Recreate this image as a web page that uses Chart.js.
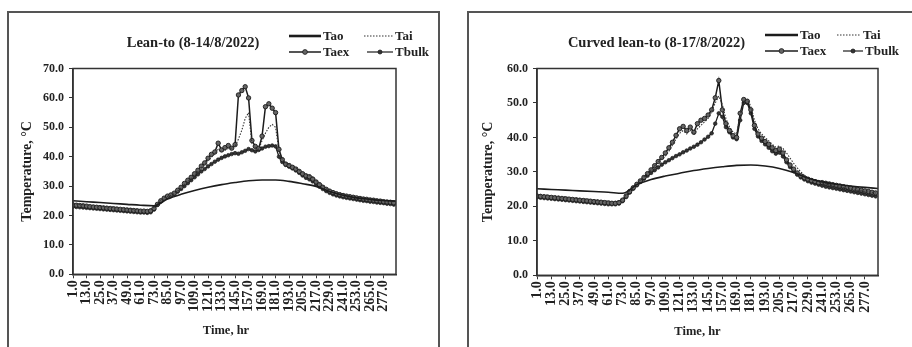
<!DOCTYPE html>
<html>
<head>
<meta charset="utf-8">
<script src="https://cdn.jsdelivr.net/npm/chart.js@4.4.0/dist/chart.umd.min.js"></script>
<style>
  html, body { margin: 0; padding: 0; background: #fff; }
  body { width: 912px; height: 347px; position: relative; overflow: hidden; }
  .frame { position: absolute; border: 2px solid #555; box-sizing: border-box; }
  .box { position: absolute; top: 0; width: 456px; height: 347px; }
</style>
</head>
<body>
<div class="frame" style="left:7px;top:11px;width:433px;height:400px"></div>
<div class="frame" style="left:467px;top:11px;width:500px;height:400px"></div>
<div class="box" style="left:0"><canvas id="leanTo"></canvas></div>
<div class="box" style="left:456px"><canvas id="curvedLeanTo"></canvas></div>
<script>
// sample times (hr) for the measured inside series, and for the outdoor curve
const hours = [1, 4, 7, 10, 13, 16, 19, 22, 25, 28,
    31, 34, 37, 40, 43, 46, 49, 52, 55, 58,
    61, 64, 67, 70, 73, 76, 79, 82, 85, 88,
    91, 94, 97, 100, 103, 106, 109, 112, 115, 118,
    121, 124, 127, 130, 133, 136, 139, 142, 145, 148,
    151, 154, 157, 160, 163, 166, 169, 172, 175, 178,
    181, 184, 187, 190, 193, 196, 199, 202, 205, 208,
    211, 214, 217, 220, 223, 226, 229, 232, 235, 238,
    241, 244, 247, 250, 253, 256, 259, 262, 265, 268,
    271, 274, 277, 280, 283, 286];
const taoHours = [1, 13, 25, 37, 49, 61, 73, 85, 97, 109, 121, 133, 145, 157, 169, 181, 193, 205, 217, 229, 241, 253, 265, 277, 288];

const xTicks = [1, 13, 25, 37, 49, 61, 73, 85, 97, 109, 121, 133, 145, 157, 169, 181, 193, 205, 217, 229, 241, 253, 265, 277];
const leanYTicks = [0, 10, 20, 30, 40, 50, 60, 70];
const curvedYTicks = [0, 10, 20, 30, 40, 50, 60];

// Lean-to (8-14/8/2022)
const leanTao = [25.0, 24.7, 24.4, 24.1, 23.8, 23.5, 23.3, 25.6, 27.2, 28.5, 29.6, 30.5, 31.2, 31.8, 32.1, 32.1, 31.6, 30.8, 29.9, 28.2, 26.9, 26.0, 25.5, 25.1, 24.9];
const leanTai = [24.0, 23.9, 23.8, 23.7, 23.6, 23.5, 23.4, 23.3, 23.2, 23.1,
    23.0, 22.9, 22.8, 22.7, 22.6, 22.5, 22.4, 22.3, 22.2, 22.1,
    22.0, 22.0, 21.9, 22.1, 22.8, 24.0, 25.2, 26.0, 26.5, 26.9,
    27.4, 28.3, 29.3, 30.5, 31.6, 32.6, 33.7, 34.9, 36.2, 37.3,
    38.7, 39.8, 41.0, 42.5, 41.6, 42.2, 42.8, 42.9, 43.5, 46.0,
    49.0, 53.0, 55.0, 44.5, 43.0, 42.5, 45.5, 48.0, 50.0, 51.0,
    50.0, 42.0, 39.0, 38.0, 37.4, 36.8, 36.2, 35.5, 34.7, 34.0,
    33.7, 33.0, 32.0, 31.1, 30.2, 29.4, 28.8, 28.3, 27.9, 27.6,
    27.3, 27.0, 26.8, 26.6, 26.4, 26.2, 26.0, 25.9, 25.7, 25.6,
    25.4, 25.3, 25.1, 25.0, 24.9, 24.7];
const leanTaex = [23.6, 23.5, 23.4, 23.3, 23.2, 23.0, 22.9, 22.8, 22.7, 22.6,
    22.5, 22.4, 22.3, 22.2, 22.1, 22.0, 21.9, 21.8, 21.7, 21.6,
    21.5, 21.5, 21.4, 21.6, 22.4, 23.8, 25.0, 25.9, 26.6, 27.0,
    27.6, 28.6, 29.6, 30.9, 32.0, 33.0, 34.2, 35.4, 36.8, 37.9,
    39.5, 40.8, 41.6, 44.6, 42.3, 43.1, 43.8, 42.9, 44.1, 61.0,
    62.5, 63.8, 60.0, 45.5, 43.5, 42.8, 47.0, 57.0, 58.0, 56.5,
    55.0, 42.5, 39.0, 37.5, 37.0, 36.4, 35.8, 35.0, 34.2, 33.5,
    33.2, 32.4, 31.4, 30.5, 29.6, 28.9, 28.3, 27.8, 27.4, 27.1,
    26.8, 26.6, 26.4, 26.2, 26.0, 25.8, 25.6, 25.5, 25.3, 25.2,
    25.0, 24.9, 24.7, 24.6, 24.5, 24.3];
const leanTbulk = [23.0, 22.9, 22.8, 22.7, 22.6, 22.5, 22.4, 22.3, 22.2, 22.1,
    22.0, 21.9, 21.8, 21.7, 21.6, 21.5, 21.4, 21.3, 21.2, 21.1,
    21.0, 21.0, 20.9, 21.1, 22.0, 23.6, 24.8, 25.7, 26.3, 26.8,
    27.3, 28.1, 29.0, 30.0, 31.0, 32.0, 33.0, 34.0, 35.0, 35.8,
    36.7, 37.5, 38.3, 39.0, 39.6, 40.1, 40.5, 40.9, 41.2, 41.0,
    41.5, 42.0, 42.6, 42.2, 41.8, 42.3, 42.8, 43.4, 43.6, 43.8,
    43.5, 40.0, 38.2, 37.2, 36.6, 36.0, 35.3, 34.5, 33.6, 32.8,
    32.3, 31.6, 30.7, 29.8, 29.0, 28.3, 27.7, 27.2, 26.8, 26.5,
    26.2, 26.0, 25.8, 25.6, 25.4, 25.2, 25.0, 24.9, 24.7, 24.6,
    24.4, 24.3, 24.2, 24.0, 23.9, 23.7];

// Curved lean-to (8-17/8/2022)
const curvedTao = [25.1, 24.9, 24.7, 24.5, 24.3, 24.1, 23.8, 26.3, 27.8, 28.8, 29.6, 30.4, 31.0, 31.5, 31.9, 32.0, 31.7, 31.0, 29.8, 28.2, 27.1, 26.4, 25.9, 25.5, 25.2];
const curvedTai = [23.5, 23.4, 23.3, 23.2, 23.1, 23.0, 22.9, 22.8, 22.7, 22.6,
    22.5, 22.4, 22.3, 22.2, 22.1, 22.0, 21.9, 21.8, 21.7, 21.6,
    21.5, 21.4, 21.4, 21.6, 22.2, 23.4, 24.6, 25.6, 26.6, 27.6,
    28.6, 29.6, 30.6, 31.7, 32.8, 33.8, 34.5, 36.0, 37.8, 39.5,
    41.2, 42.0, 41.0, 42.2, 40.8, 42.5, 43.5, 44.5, 45.5, 47.5,
    50.0, 52.0, 49.5, 45.5, 43.0, 41.5, 41.0, 46.5, 50.5, 51.0,
    49.0, 45.0, 42.5, 41.0, 40.0, 39.0, 38.0, 37.2, 37.5, 36.8,
    35.5, 34.0, 32.5, 31.2, 30.0, 29.0, 28.3, 27.8, 27.4, 27.1,
    26.8, 26.5, 26.2, 26.0, 25.8, 25.6, 25.4, 25.2, 25.0, 24.8,
    24.6, 24.5, 24.3, 24.2, 24.0, 23.9];
const curvedTaex = [23.0, 22.9, 22.8, 22.7, 22.6, 22.5, 22.4, 22.3, 22.2, 22.1,
    22.0, 21.9, 21.8, 21.7, 21.6, 21.5, 21.4, 21.3, 21.2, 21.1,
    21.0, 20.9, 20.9, 21.1, 21.8, 23.0, 24.3, 25.4, 26.4, 27.4,
    28.4, 29.5, 30.6, 31.8, 33.0, 34.2, 35.5, 37.0, 38.6, 40.6,
    42.5, 43.2, 42.0, 43.0, 41.5, 44.0, 45.0, 45.5, 46.5, 48.0,
    51.5, 56.5, 48.0, 44.0, 42.0, 40.5, 40.0, 47.0, 51.0, 50.5,
    48.0, 43.5, 41.0, 39.8, 38.8, 38.0, 37.0, 36.2, 36.6, 35.5,
    33.5, 32.0, 30.8, 29.7, 28.9, 28.3, 27.9, 27.5, 27.2, 26.9,
    26.9, 26.7, 26.5, 26.3, 26.1, 25.9, 25.7, 25.5, 25.3, 25.1,
    24.9, 24.7, 24.5, 24.3, 24.1, 23.9];
const curvedTbulk = [22.6, 22.5, 22.4, 22.3, 22.2, 22.1, 22.0, 21.9, 21.8, 21.7,
    21.6, 21.5, 21.4, 21.3, 21.2, 21.1, 21.0, 20.9, 20.8, 20.7,
    20.6, 20.6, 20.6, 20.8, 21.5, 22.7, 24.0, 25.1, 26.1, 27.1,
    28.0, 28.9, 29.7, 30.5, 31.3, 32.1, 32.8, 33.4, 34.0, 34.6,
    35.1, 35.7, 36.2, 36.8, 37.3, 37.9, 38.6, 39.4, 40.2, 41.2,
    44.0, 47.0, 46.0, 43.0, 41.5, 40.0, 39.5, 45.0, 50.0, 50.0,
    47.0, 42.5, 40.3, 39.0, 38.0, 37.0, 36.0, 35.3, 35.6, 34.5,
    32.8, 31.4, 30.2, 29.2, 28.4, 27.8, 27.3, 26.9, 26.6, 26.3,
    26.0, 25.7, 25.5, 25.3, 25.1, 24.9, 24.7, 24.5, 24.3, 24.1,
    23.9, 23.7, 23.5, 23.3, 23.1, 22.9];

Chart.defaults.font.family = '"Liberation Serif", "Times New Roman", serif';
Chart.defaults.font.weight = 'bold';
Chart.defaults.color = '#222';

const ink = '#1c1c1c';
const serif = '"Liberation Serif", "Times New Roman", serif';

function pairs(xs, ys) {
    return xs.map((x, i) => ({ x: x, y: ys[i] }));
}

// plot box, chart title, "Time, hr" and the 2x2 legend drawn on the canvas
function makeHeader(opt) {
    return {
        id: 'header',
        afterDraw(chart) {
            const ctx = chart.ctx;
            const a = chart.chartArea;
            ctx.save();
            ctx.strokeStyle = '#333';
            ctx.lineWidth = 1.5;
            ctx.strokeRect(a.left, a.top, a.right - a.left, a.bottom - a.top);

            ctx.fillStyle = '#222';
            ctx.textAlign = 'center';
            ctx.textBaseline = 'middle';
            ctx.font = 'bold 14.5px ' + serif;
            ctx.fillText(opt.title, opt.titleX, 43);
            ctx.font = 'bold 12.5px ' + serif;
            ctx.fillText('Time, hr', opt.xTitleX, opt.xTitleY);

            ctx.font = 'bold 13px ' + serif;
            ctx.textAlign = 'left';
            const widths = [2.6, 1.2, 1.5, 1.2];
            chart.data.datasets.forEach((ds, i) => {
                const p = opt.legend[i];
                ctx.strokeStyle = ds.borderColor;
                ctx.lineWidth = widths[i];
                ctx.setLineDash(ds.borderDash || []);
                ctx.beginPath();
                ctx.moveTo(p[0], p[1]);
                ctx.lineTo(p[2], p[1]);
                ctx.stroke();
                ctx.setLineDash([]);
                if (ds.pointRadius > 0) {
                    ctx.beginPath();
                    ctx.arc((p[0] + p[2]) / 2, p[1], ds.pointRadius + 0.2, 0, Math.PI * 2);
                    ctx.fillStyle = ds.pointBackgroundColor;
                    ctx.fill();
                    ctx.lineWidth = 0.8;
                    ctx.strokeStyle = ds.pointBorderColor;
                    ctx.stroke();
                }
                ctx.fillStyle = '#222';
                ctx.fillText(ds.label, p[2] + 2, p[1] + 0.5);
            });
            ctx.restore();
        }
    };
}

function buildChart(canvasId, opt) {
    const datasets = [
        { label: 'Tao', data: pairs(taoHours, opt.tao), borderColor: ink, borderWidth: 1.6,
          pointRadius: 0, cubicInterpolationMode: 'monotone' },
        { label: 'Tai', data: pairs(hours, opt.tai), borderColor: '#333', borderWidth: 1.1,
          borderDash: [1.5, 1.5], pointRadius: 0 },
        { label: 'Taex', data: pairs(hours, opt.taex), borderColor: ink, borderWidth: 1.5,
          pointStyle: 'circle', pointRadius: 2.2, pointBorderWidth: 0.9,
          pointBackgroundColor: '#666', pointBorderColor: '#1a1a1a' },
        { label: 'Tbulk', data: pairs(hours, opt.tbulk), borderColor: ink, borderWidth: 1.3,
          pointStyle: 'circle', pointRadius: 1.8, pointBorderWidth: 0.7,
          pointBackgroundColor: '#333', pointBorderColor: '#1a1a1a' }
    ];
    const axisGrid = { drawOnChartArea: false, drawTicks: true, tickLength: 4, color: '#333', lineWidth: 1 };
    const axisBorder = { display: true, color: '#333', width: 1.5 };

    return new Chart(document.getElementById(canvasId), {
        type: 'line',
        data: { datasets: datasets },
        options: {
            responsive: true,
            maintainAspectRatio: false,
            animation: false,
            layout: { padding: opt.padding },
            plugins: {
                legend: { display: false },
                tooltip: { enabled: false }
            },
            scales: {
                x: {
                    type: 'linear',
                    min: 1,
                    max: 288,
                    afterBuildTicks: s => { s.ticks = xTicks.map(v => ({ value: v })); },
                    afterFit: s => { s.height = 50; },
                    grid: axisGrid,
                    border: axisBorder,
                    ticks: {
                        autoSkip: false,
                        minRotation: 90,
                        maxRotation: 90,
                        padding: 2,
                        font: { size: 14 },
                        callback: v => v.toFixed(1)
                    }
                },
                y: {
                    min: 0,
                    max: opt.yMax,
                    afterBuildTicks: s => { s.ticks = opt.yTicks.map(v => ({ value: v })); },
                    afterFit: s => { s.width = opt.yWidth; },
                    grid: axisGrid,
                    border: axisBorder,
                    ticks: {
                        padding: 5,
                        font: { size: 12 },
                        callback: v => v.toFixed(1)
                    },
                    title: {
                        display: true,
                        text: 'Temperature, °C',
                        font: { size: 14 },
                        padding: { top: 4, bottom: 4 }
                    }
                }
            }
        },
        plugins: [makeHeader(opt)]
    });
}

buildChart('leanTo', {
    title: 'Lean-to (8-14/8/2022)',
    titleX: 193,
    xTitleX: 226,
    xTitleY: 331,
    yMax: 70,
    yTicks: leanYTicks,
    yWidth: 58,
    padding: { left: 15, right: 60, top: 68.5, bottom: 22.7 },
    legend: [[289, 36, 321], [364, 36, 393], [289, 52, 321], [367, 52, 393]],
    tao: leanTao, tai: leanTai, taex: leanTaex, tbulk: leanTbulk
});

buildChart('curvedLeanTo', {
    title: 'Curved lean-to (8-17/8/2022)',
    titleX: 200.5,
    xTitleX: 241.5,
    xTitleY: 332,
    yMax: 60,
    yTicks: curvedYTicks,
    yWidth: 61,
    padding: { left: 20, right: 34, top: 68.5, bottom: 21.7 },
    legend: [[309, 35, 342], [381, 35, 405], [309, 51, 342], [387, 51, 407]],
    tao: curvedTao, tai: curvedTai, taex: curvedTaex, tbulk: curvedTbulk
});
</script>
</body>
</html>
